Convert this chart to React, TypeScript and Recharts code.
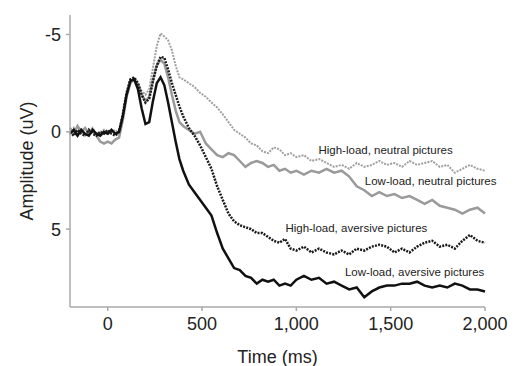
import { LineChart, Line, XAxis, YAxis, ReferenceDot } from "recharts";

// time points (ms)
const times = [
  -200, -180, -160, -140, -120, -100, -80, -60, -40, -20, 0, 20, 40, 60, 80, 100, 120, 140, 160, 180, 200,
  220, 240, 260, 280, 300, 320, 340, 360, 380, 400,
  430, 460, 490, 520, 550, 580, 610, 640, 670, 700, 730, 760, 790, 820, 850, 880, 910, 940, 970, 1000,
  1040, 1080, 1120, 1160, 1200, 1240, 1280, 1320, 1360, 1400, 1440, 1480, 1520, 1560, 1600, 1640, 1680,
  1720, 1760, 1800, 1840, 1880, 1920, 1960, 2000,
];

// amplitude (uV), negative is up
const highNeutral = [
  0.1, -0.2, 0.1, -0.1, 0.2, 0.0, -0.2, 0.1, 0.0, -0.1, 0.1, 0.0, -0.1, 0.1, -0.8, -1.9, -2.6, -2.75, -2.5, -2.1, -1.9,
  -2.2, -3.3, -4.4, -5.05, -4.9, -4.7, -4.2, -3.4, -2.8, -2.7,
  -2.5, -2.3, -2.0, -1.8, -1.5, -1.25, -0.9, -0.5, -0.1, 0.1, 0.3, 0.6, 0.7, 1.0, 1.1, 0.8, 0.9, 1.2, 1.1, 1.3,
  1.2, 1.5, 1.4, 1.6, 1.8, 1.7, 1.9, 1.6, 1.8, 1.7, 1.5, 1.7, 1.6, 1.8, 1.5, 1.7, 1.6,
  1.5, 1.8, 1.7, 2.1, 1.9, 1.7, 1.9, 2.0,
];
const lowNeutral = [
  -0.2, 0.1, -0.3, 0.0, -0.2, 0.1, -0.1, 0.2, 0.5, 0.6, 0.5, 0.6, 0.4, 0.3, -0.6, -1.8, -2.5, -2.7, -2.4, -1.9, -1.6,
  -1.8, -2.7, -3.4, -3.7, -3.5, -2.8, -1.9, -1.1, -0.5, -0.3,
  -0.1, 0.1, 0.0, 0.6, 0.9, 1.2, 1.3, 1.1, 1.2, 1.5, 1.8, 1.6, 1.5, 1.6, 1.8, 1.7, 2.0, 1.9, 2.1, 2.0,
  2.2, 2.0, 2.1, 1.9, 2.1, 2.0, 2.3, 2.8, 3.0, 3.3, 3.1, 3.3, 3.2, 3.4, 3.3, 3.5, 3.7,
  3.5, 3.8, 3.9, 4.0, 4.2, 4.0, 3.9, 4.2,
];
const highAversive = [
  0.0, 0.2, -0.1, 0.1, 0.2, -0.1, 0.1, 0.2, 0.0, 0.1, -0.1, 0.1, 0.2, 0.0, -0.9, -2.0, -2.7, -2.8, -2.5, -1.9, -1.5,
  -1.7, -2.6, -3.4, -3.85, -3.8, -3.2, -2.5, -1.9, -1.3, -0.8,
  -0.2, 0.2, 0.7, 1.3, 1.9, 2.8, 3.5, 4.2, 4.6, 4.8, 4.9, 5.0, 5.2, 5.2, 5.4, 5.6, 5.7, 5.5, 6.0, 6.1,
  5.9, 6.2, 6.0, 6.2, 6.3, 6.1, 6.3, 6.0, 6.1, 5.9, 5.8, 5.9, 6.2, 6.0, 6.2, 5.9, 5.7,
  5.6, 5.9, 5.8, 6.0, 5.6, 5.3, 5.6, 5.7,
];
const lowAversive = [
  0.1, -0.1, 0.2, -0.1, 0.1, 0.2, -0.1, 0.1, 0.2, 0.0, 0.1, -0.1, 0.1, 0.0, -0.8, -1.9, -2.6, -2.7, -2.2, -1.2, -0.4,
  -0.5, -1.6, -2.5, -2.8, -2.4, -1.5, -0.5, 0.5, 1.4, 2.0,
  2.7, 3.1, 3.5, 3.9, 4.3, 5.2, 6.0, 6.5, 7.0, 7.1, 7.4, 7.5, 7.8, 7.6, 7.7, 7.6, 7.9, 7.8, 7.9, 7.6,
  7.4, 7.6, 7.5, 7.8, 7.7, 7.9, 8.1, 8.0, 8.5, 8.2, 8.0, 7.9, 7.9, 7.8, 7.8, 7.7, 7.9,
  8.0, 7.9, 8.0, 7.8, 7.9, 8.1, 8.1, 8.2,
];

const xTicks = [0, 500, 1000, 1500, 2000];
const yTicks = [-5, 0, 5];

// label anchors: [time, amplitude, text]
const labels: [number, number, string][] = [
  [1473, 0.95, "High-load, neutral pictures"],
  [1712, 2.5, "Low-load, neutral pictures"],
  [1318, 4.95, "High-load, aversive pictures"],
  [1627, 7.2, "Low-load, aversive pictures"],
];

const data = times.map((t, i) => ({
  t,
  hn: highNeutral[i],
  ln: lowNeutral[i],
  ha: highAversive[i],
  la: lowAversive[i],
}));

const FONT = "'Liberation Sans', Arial, sans-serif";
const AXIS = "#aaaaaa";

export default function App() {
  return (
    <div style={{ position: "absolute", left: 0, top: 0, fontFamily: FONT }}>
      <LineChart width={518} height={366} data={data} margin={{ top: 15, right: 33, left: 0, bottom: 0 }}>
        <XAxis
          dataKey="t"
          type="number"
          domain={[-200, 2000]}
          ticks={xTicks}
          tickFormatter={(v: number) => v.toLocaleString("en-US")}
          stroke={AXIS}
          strokeWidth={1.5}
          tickSize={4}
          tickMargin={6}
          height={59}
          tick={{ fill: "#222", fontSize: 18, fontFamily: FONT }}
          label={{ value: "Time (ms)", position: "insideBottom", offset: 3, fill: "#222", fontSize: 18, fontFamily: FONT }}
        />
        <YAxis
          type="number"
          reversed
          domain={[-6, 9]}
          ticks={yTicks}
          stroke={AXIS}
          strokeWidth={1.5}
          tickSize={4}
          tickMargin={5}
          width={70}
          tick={{ fill: "#222", fontSize: 18, fontFamily: FONT }}
          label={{
            value: "Amplitude (uV)",
            angle: -90,
            position: "insideLeft",
            offset: 27,
            fill: "#222",
            fontSize: 18,
            fontFamily: FONT,
            style: { textAnchor: "middle" },
          }}
        />
        <Line dataKey="hn" stroke="#a0a0a0" strokeWidth={2} strokeDasharray="2 1.2" dot={false} isAnimationActive={false} />
        <Line dataKey="ln" stroke="#9a9a9a" strokeWidth={2.5} dot={false} isAnimationActive={false} />
        <Line dataKey="ha" stroke="#1a1a1a" strokeWidth={2.5} strokeDasharray="2 1.2" dot={false} isAnimationActive={false} />
        <Line dataKey="la" stroke="#111" strokeWidth={2.5} dot={false} isAnimationActive={false} />
        {labels.map(([x, y, text]) => (
          <ReferenceDot
            key={text}
            x={x}
            y={y}
            r={0}
            fill="none"
            stroke="none"
            ifOverflow="visible"
            label={{ value: text, position: "center", fill: "#222", fontSize: 11.5, fontFamily: FONT }}
          />
        ))}
      </LineChart>
    </div>
  );
}
